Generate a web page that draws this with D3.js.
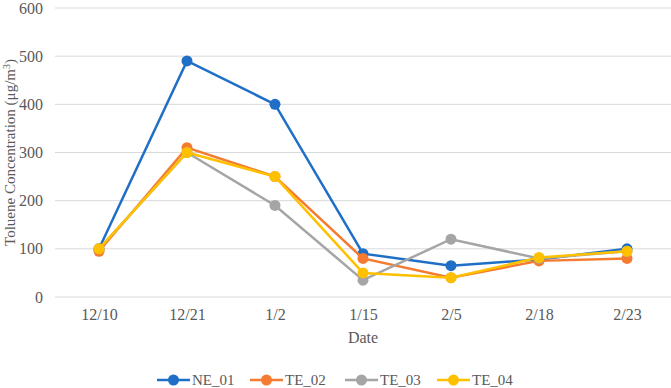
<!DOCTYPE html>
<html>
<head>
<meta charset="utf-8">
<script src="https://cdn.jsdelivr.net/npm/d3@7"></script>
<style>
  body { margin: 0; background: #fff; }
  #chart { width: 671px; height: 388px; }
  text { font-family: "Liberation Serif", "Times New Roman", serif; fill: #595959; }
</style>
</head>
<body>
<div id="chart"></div>
<script>
const dates = ["12/10", "12/21", "1/2", "1/15", "2/5", "2/18", "2/23"];
const yTicks = [0, 100, 200, 300, 400, 500, 600];
const seriesNames = ["NE_01", "TE_02", "TE_03", "TE_04"];
const ne01 = [100, 490, 400, 90, 65, 78, 100];
const te02 = [95, 310, 250, 80, 40, 75, 80];
const te03 = [100, 300, 190, 35, 120, 80, 95];
const te04 = [100, 300, 250, 50, 40, 82, 95];
const colors = ["#1f6fc6", "#f47b2f", "#a5a5a5", "#ffc000"];

const series = [ne01, te02, te03, te04].map((vals, i) => ({
    name: seriesNames[i],
    color: colors[i],
    values: vals.map((v, j) => ({date: dates[j], value: v}))
}));

const margin = {top: 8, right: 0, bottom: 91, left: 55};
const width = 671 - margin.left - margin.right;
const height = 388 - margin.top - margin.bottom;

const svg = d3.select("#chart").append("svg")
    .attr("width", 671)
    .attr("height", 388)
    .append("g")
    .attr("transform", `translate(${margin.left}, ${margin.top})`);

const x = d3.scalePoint()
    .domain(dates)
    .range([0, width])
    .padding(0.5);

const y = d3.scaleLinear()
    .domain([0, 600])
    .range([height, 0]);

// gridlines
svg.append("g")
    .selectAll("line")
    .data(yTicks)
    .enter()
    .append("line")
    .attr("x1", 0)
    .attr("x2", width)
    .attr("y1", d => y(d))
    .attr("y2", d => y(d))
    .attr("stroke", "#d9d9d9")
    .attr("stroke-width", 1);

// y axis
const yAxis = d3.axisLeft(y).tickValues(yTicks).tickSize(0).tickPadding(12);
svg.append("g")
    .attr("class", "y-axis")
    .call(yAxis)
    .call(g => g.select(".domain").remove())
    .selectAll("text")
    .style("font-size", "16px")
    .style("fill", "#595959");

// x axis
const xAxis = d3.axisBottom(x).tickSize(0).tickPadding(12);
svg.append("g")
    .attr("class", "x-axis")
    .attr("transform", `translate(0, ${height})`)
    .call(xAxis)
    .call(g => g.select(".domain").remove())
    .selectAll("text")
    .style("font-size", "16px")
    .style("fill", "#595959");

// axis titles
const yTitle = svg.append("text")
    .attr("transform", `translate(${-40}, ${height / 2}) rotate(-90)`)
    .attr("text-anchor", "middle")
    .style("font-size", "15px");
yTitle.append("tspan").text("Toluene Concentration (μg/m");
yTitle.append("tspan").text("3").attr("baseline-shift", "super").style("font-size", "10px");
yTitle.append("tspan").text(")");

svg.append("text")
    .attr("x", x("1/15"))
    .attr("y", height + 46)
    .attr("text-anchor", "middle")
    .style("font-size", "16px")
    .text("Date");

// lines
const line = d3.line()
    .x(d => x(d.date))
    .y(d => y(d.value));

const groups = svg.selectAll(".series")
    .data(series)
    .enter()
    .append("g")
    .attr("class", "series");

groups.append("path")
    .attr("d", d => line(d.values))
    .attr("fill", "none")
    .attr("stroke", d => d.color)
    .attr("stroke-width", 2.5);

groups.selectAll("circle")
    .data(d => d.values.map(v => ({...v, color: d.color})))
    .enter()
    .append("circle")
    .attr("cx", d => x(d.date))
    .attr("cy", d => y(d.value))
    .attr("r", 5.5)
    .attr("fill", d => d.color);

// legend
const legendX = [157, 250, 345, 437];
const legend = svg.append("g")
    .attr("transform", `translate(${-margin.left}, ${380 - margin.top})`);

const items = legend.selectAll(".legend-item")
    .data(series)
    .enter()
    .append("g")
    .attr("transform", (d, i) => `translate(${legendX[i]}, 0)`);

items.append("line")
    .attr("x1", 0)
    .attr("x2", 33)
    .attr("stroke", d => d.color)
    .attr("stroke-width", 2.5);

items.append("circle")
    .attr("cx", 16.5)
    .attr("r", 5.5)
    .attr("fill", d => d.color);

items.append("text")
    .attr("x", 35)
    .attr("dy", "0.35em")
    .style("font-size", "15px")
    .text(d => d.name);
</script>
</body>
</html>
